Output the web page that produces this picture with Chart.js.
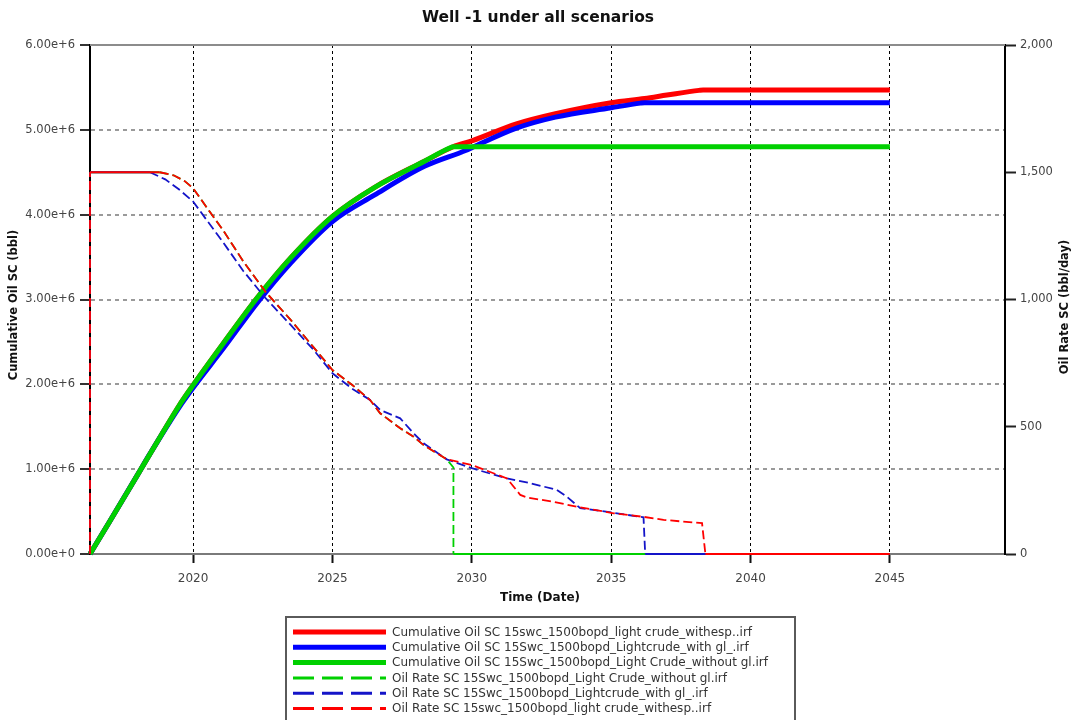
<!DOCTYPE html>
<html>
<head>
<meta charset="utf-8">
<title>Well -1 under all scenarios</title>
<script src="https://cdn.jsdelivr.net/npm/chart.js@4/dist/chart.umd.min.js"></script>
<style>
  html, body { margin: 0; padding: 0; background: #ffffff; }
  #wrap { width: 1076px; height: 720px; }
</style>
</head>
<body>
<div id="wrap"><canvas id="wellChart" width="1076" height="720"></canvas></div>
<script>
// --- Dados ---
const chartTitle = 'Well -1 under all scenarios';
const xAxisTitle = 'Time (Date)';
const leftAxisTitle = 'Cumulative Oil SC (bbl)';
const rightAxisTitle = 'Oil Rate SC (bbl/day)';

const xTicks = [2020, 2025, 2030, 2035, 2040, 2045];
const leftTicks = [0, 1e6, 2e6, 3e6, 4e6, 5e6, 6e6];
const rightTicks = [0, 500, 1000, 1500, 2000];

const legendLabels = [
    'Cumulative Oil SC 15swc_1500bopd_light crude_withesp..irf',
    'Cumulative Oil SC 15Swc_1500bopd_Lightcrude_with gl_.irf',
    'Cumulative Oil SC 15Swc_1500bopd_Light Crude_without gl.irf',
    'Oil Rate SC 15Swc_1500bopd_Light Crude_without gl.irf',
    'Oil Rate SC 15Swc_1500bopd_Lightcrude_with gl_.irf',
    'Oil Rate SC 15swc_1500bopd_light crude_withesp..irf'
];

// Óleo acumulado (bbl)
const cumRedYears   = [2016.3, 2017, 2018, 2018.8, 2019.5, 2020, 2021.1, 2022.3, 2023.5, 2025, 2026.5, 2028.3, 2029.33, 2030, 2031.6, 2033, 2035, 2036.2, 2037, 2038.15, 2038.3, 2045];
const cumRedValues  = [0, 0.38e6, 0.93e6, 1.37e6, 1.75e6, 1.99e6, 2.49e6, 3.02e6, 3.49e6, 3.98e6, 4.32e6, 4.63e6, 4.80e6, 4.87e6, 5.07e6, 5.19e6, 5.32e6, 5.37e6, 5.41e6, 5.465e6, 5.47e6, 5.47e6];

const cumBlueYears  = [2016.3, 2017, 2018, 2018.45, 2019.5, 2020, 2021.1, 2022.3, 2023.5, 2025, 2026.5, 2028.3, 2029.8, 2030, 2031.6, 2033, 2035, 2036.05, 2036.2, 2045];
const cumBlueValues = [0, 0.38e6, 0.93e6, 1.18e6, 1.73e6, 1.96e6, 2.43e6, 2.96e6, 3.43e6, 3.92e6, 4.23e6, 4.57e6, 4.76e6, 4.79e6, 5.02e6, 5.15e6, 5.26e6, 5.315e6, 5.32e6, 5.32e6];

const cumGreenYears  = [2016.3, 2017, 2018, 2018.8, 2019.5, 2020, 2021.1, 2022.3, 2023.5, 2025, 2026.5, 2028.3, 2029.2, 2029.33, 2045];
const cumGreenValues = [0, 0.38e6, 0.93e6, 1.37e6, 1.75e6, 1.99e6, 2.49e6, 3.02e6, 3.49e6, 3.98e6, 4.32e6, 4.63e6, 4.785e6, 4.80e6, 4.80e6];

// Vazão de óleo (bbl/day)
const rateRedYears  = [2016.3, 2016.3, 2018.8, 2019.3, 2019.7, 2020.0, 2020.5, 2021.1, 2021.8, 2022.6, 2023.5, 2024.3, 2025.0, 2025.7, 2026.35, 2026.71, 2027.43, 2027.91, 2028.27, 2029.1, 2030.0, 2031.26, 2031.74, 2031.98, 2032.93, 2033.89, 2035.09, 2036.16, 2036.88, 2038.26, 2038.38, 2045];
const rateRedValues = [0, 1500, 1500, 1488, 1465, 1437, 1360, 1268, 1150, 1030, 920, 815, 723, 665, 605, 553, 494, 461, 428, 372, 350, 297, 232, 222, 205, 183, 160, 146, 134, 121, 0, 0];

const rateBlueYears  = [2016.3, 2016.3, 2018.45, 2019.0, 2019.5, 2020.0, 2020.5, 2021.1, 2021.8, 2022.6, 2023.5, 2024.3, 2025.0, 2025.7, 2026.35, 2026.71, 2027.43, 2027.91, 2028.27, 2029.1, 2030.0, 2031.26, 2032.1, 2033.05, 2033.41, 2033.89, 2035.09, 2036.16, 2036.22, 2045];
const rateBlueValues = [0, 1500, 1500, 1472, 1432, 1385, 1310, 1221, 1112, 1005, 900, 805, 710, 650, 605, 566, 533, 474, 435, 372, 337, 297, 278, 252, 225, 180, 162, 144, 0, 0];

const rateGreenYears  = [2016.3, 2016.3, 2018.8, 2019.3, 2019.7, 2020.0, 2020.5, 2021.1, 2021.8, 2022.6, 2023.5, 2024.3, 2025.0, 2025.7, 2026.35, 2026.71, 2027.43, 2027.91, 2028.27, 2029.1, 2029.34, 2029.34, 2045];
const rateGreenValues = [0, 1500, 1500, 1488, 1465, 1437, 1360, 1268, 1150, 1030, 920, 815, 723, 665, 605, 553, 494, 461, 428, 372, 340, 0, 0];

// Cores
const RED = '#ff0000';
const BLUE = '#0000ff';
const GREEN = '#00d000';
const RATE_BLUE = '#1414c8';

function toPoints(xs, ys) {
    return xs.map((x, i) => ({ x: x, y: ys[i] }));
}

// trechos horizontais (patamar e zero) desenhados contínuos
function solidFlat(ctx) {
    if (ctx.p0.parsed.y === ctx.p1.parsed.y && (ctx.p0.parsed.y === 0 || ctx.p0.parsed.y === 1500)) {
        return [];
    }
    return undefined;
}

function cumDataset(label, xs, ys, color, order) {
    return {
        label: label,
        data: toPoints(xs, ys),
        yAxisID: 'yCum',
        borderColor: color,
        backgroundColor: color,
        borderWidth: 5,
        pointRadius: 0,
        cubicInterpolationMode: 'monotone',
        clip: false,
        order: order
    };
}

function rateDataset(label, xs, ys, color, order) {
    return {
        label: label,
        data: toPoints(xs, ys),
        yAxisID: 'yRate',
        borderColor: color,
        backgroundColor: color,
        borderWidth: 1.8,
        borderDash: [9, 4],
        pointRadius: 0,
        tension: 0,
        clip: false,
        order: order,
        segment: { borderDash: solidFlat }
    };
}

// --- Plugin: título, títulos dos eixos, borda superior e legenda ---
const extrasPlugin = {
    id: 'extras',
    beforeDatasetsDraw(chart) {
        const { ctx, chartArea: a } = chart;
        ctx.save();
        ctx.strokeStyle = '#8c8c8c';
        ctx.lineWidth = 2;
        ctx.beginPath();
        ctx.moveTo(a.left, a.top);
        ctx.lineTo(a.right, a.top);
        ctx.stroke();
        ctx.restore();
    },
    afterDraw(chart) {
        const ctx = chart.ctx;
        ctx.save();
        ctx.fillStyle = '#111';
        ctx.textAlign = 'center';
        ctx.textBaseline = 'middle';

        ctx.font = 'bold 15.5px "DejaVu Sans"';
        ctx.fillText(chartTitle, 538, 18);

        ctx.font = 'bold 12px "DejaVu Sans"';
        ctx.fillText(xAxisTitle, 540, 598);

        ctx.font = 'bold 11.5px "DejaVu Sans"';
        ctx.save();
        ctx.translate(14, 305);
        ctx.rotate(-Math.PI / 2);
        ctx.fillText(leftAxisTitle, 0, 0);
        ctx.restore();

        ctx.save();
        ctx.translate(1065, 307);
        ctx.rotate(-Math.PI / 2);
        ctx.fillText(rightAxisTitle, 0, 0);
        ctx.restore();

        // Legenda
        ctx.strokeStyle = '#5a5a5a';
        ctx.lineWidth = 2;
        ctx.strokeRect(286, 617, 509, 120);

        const rowTop = 632;
        const rowStep = 15.3;
        ctx.textAlign = 'left';
        ctx.font = '12px "DejaVu Sans"';
        chart.data.datasets.forEach((ds, i) => {
            const y = rowTop + i * rowStep;
            ctx.save();
            ctx.strokeStyle = ds.borderColor;
            if (ds.borderDash) {
                ctx.lineWidth = 3;
                ctx.setLineDash([21, 8]);
            } else {
                ctx.lineWidth = 5;
                ctx.setLineDash([]);
            }
            ctx.beginPath();
            ctx.moveTo(293, y);
            ctx.lineTo(386, y);
            ctx.stroke();
            ctx.restore();
            ctx.fillStyle = '#333';
            ctx.fillText(legendLabels[i], 392, y + 0.5);
        });
        ctx.restore();
    }
};

const tickFont = { family: '"DejaVu Sans"', size: 11.5 };

const ctx = document.getElementById('wellChart').getContext('2d');
const wellChart = new Chart(ctx, {
    type: 'line',
    data: {
        datasets: [
            cumDataset(legendLabels[0], cumRedYears, cumRedValues, RED, 5),
            cumDataset(legendLabels[1], cumBlueYears, cumBlueValues, BLUE, 4),
            cumDataset(legendLabels[2], cumGreenYears, cumGreenValues, GREEN, 3),
            rateDataset(legendLabels[3], rateGreenYears, rateGreenValues, GREEN, 2),
            rateDataset(legendLabels[4], rateBlueYears, rateBlueValues, RATE_BLUE, 1),
            rateDataset(legendLabels[5], rateRedYears, rateRedValues, RED, 0)
        ]
    },
    options: {
        responsive: false,
        animation: false,
        layout: { padding: { top: 45, left: 0, right: 0, bottom: 0 } },
        plugins: {
            legend: { display: false },
            title: { display: false },
            tooltip: { enabled: false }
        },
        scales: {
            x: {
                type: 'linear',
                min: 2016.3,
                max: 2049.13,
                afterBuildTicks: (s) => { s.ticks = xTicks.map(v => ({ value: v })); },
                afterFit: (s) => { s.height = 166; },
                ticks: {
                    font: { family: '"DejaVu Sans"', size: 12 },
                    color: '#444',
                    padding: 9,
                    maxRotation: 0,
                    callback: (v) => String(v)
                },
                grid: {
                    color: '#000',
                    lineWidth: 1,
                    tickColor: '#111',
                    tickWidth: 2,
                    tickLength: 9
                },
                border: { color: '#7a7a7a', width: 2, dash: [3, 3] }
            },
            yCum: {
                type: 'linear',
                position: 'left',
                min: 0,
                max: 6e6,
                afterBuildTicks: (s) => { s.ticks = leftTicks.map(v => ({ value: v })); },
                afterFit: (s) => { s.width = 90; },
                ticks: {
                    font: tickFont,
                    color: '#444',
                    padding: 5,
                    callback: (v) => (v / 1e6).toFixed(2) + 'e+' + (v === 0 ? 0 : 6)
                },
                grid: {
                    color: (c) => (c.tick && (c.tick.value === 0 || c.tick.value === 6e6)) ? 'rgba(0,0,0,0)' : '#9a9a9a',
                    lineWidth: 2,
                    tickColor: '#333',
                    tickWidth: 2,
                    tickLength: 10
                },
                border: { color: '#000', width: 2, dash: [4, 4] }
            },
            yRate: {
                type: 'linear',
                position: 'right',
                min: 0,
                max: 2000,
                afterBuildTicks: (s) => { s.ticks = rightTicks.map(v => ({ value: v })); },
                afterFit: (s) => { s.width = 71; },
                ticks: {
                    font: tickFont,
                    color: '#444',
                    padding: 4,
                    callback: (v) => v.toLocaleString('en-US')
                },
                grid: {
                    drawOnChartArea: false,
                    color: '#333',
                    tickColor: '#222',
                    tickWidth: 2,
                    tickLength: 11
                },
                border: { color: '#000', width: 2 }
            }
        }
    },
    plugins: [extrasPlugin]
});
</script>
</body>
</html>
